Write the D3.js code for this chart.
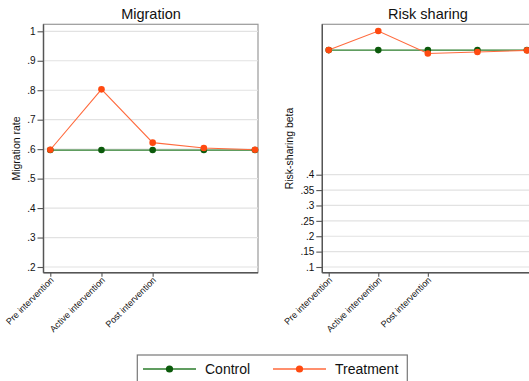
<!DOCTYPE html>
<html><head><meta charset="utf-8">
<script src="https://cdn.jsdelivr.net/npm/d3@7"></script>
<style>body{margin:0;background:#fff}svg{display:block;font-family:"Liberation Sans",Arial,sans-serif}</style>
</head><body>
<svg id="c" width="529" height="381"></svg>
<script>
const periods = [1, 2, 3, 4, 5];
const tickPeriods = [1, 2, 3];
const tickLabels = ["Pre intervention", "Active intervention", "Post intervention"];
const migControl = [0.597, 0.597, 0.597, 0.597, 0.597];
const migTreatment = [0.598, 0.803, 0.622, 0.604, 0.598];
const rsControl = [0.805, 0.805, 0.805, 0.805, 0.805];
const rsTreatment = [0.805, 0.867, 0.794, 0.799, 0.804];
const migTicks = [0.2, 0.3, 0.4, 0.5, 0.6, 0.7, 0.8, 0.9, 1];
const migTickLabels = [".2", ".3", ".4", ".5", ".6", ".7", ".8", ".9", "1"];
const rsTicks = [0.1, 0.15, 0.2, 0.25, 0.3, 0.35, 0.4];
const rsTickLabels = [".1", ".15", ".2", ".25", ".3", ".35", ".4"];

const svg = d3.select("#c");
const cCtrlLine = "#2b7d2b", cCtrlDot = "#0b5a0b", cTrLine = "#ff6a3d", cTrDot = "#ff4a10";

function panel(o) {
  const g = svg.append("g");
  const x = d3.scaleLinear().domain([1, 5]).range([o.px0, o.px1]);
  const y = d3.scaleLinear().domain(o.ydom).range(o.yrange);
  g.append("rect").attr("x", o.fx0).attr("y", o.fy0).attr("width", o.fx1 - o.fx0).attr("height", o.fy1 - o.fy0)
    .attr("fill", "#fff").attr("stroke", "#9a9a9a").attr("stroke-width", 1.2);
  g.selectAll(".grid").data(o.ticks).join("line")
    .attr("x1", o.fx0).attr("x2", o.fx1).attr("y1", d => y(d)).attr("y2", d => y(d))
    .attr("stroke", "#e2e2e2").attr("stroke-width", 1.2);
  const ya = d3.axisLeft(y).tickValues(o.ticks).tickFormat((d, i) => o.tickLabels[i]).tickSize(6).tickPadding(2);
  const yg = g.append("g").attr("transform", `translate(${o.fx0},0)`).call(ya);
  yg.select(".domain").remove();
  yg.selectAll(".tick line").attr("stroke", "#555").attr("stroke-width", 1.1);
  yg.selectAll(".tick text").attr("fill", "#111").style("font-size", "10px").style("font-family", "Liberation Sans, Arial, sans-serif");
  g.append("line").attr("x1", o.fx0).attr("x2", o.fx0).attr("y1", o.fy0).attr("y2", o.fy1).attr("stroke", "#555").attr("stroke-width", 1.4);
  const xa = d3.axisBottom(x).tickValues(tickPeriods).tickFormat((d, i) => tickLabels[i]).tickSize(4).tickPadding(2);
  const xg = g.append("g").attr("transform", `translate(0,${o.fy1})`).call(xa);
  xg.select(".domain").remove();
  xg.selectAll(".tick line").attr("stroke", "#555").attr("stroke-width", 1.1);
  xg.selectAll(".tick text").attr("fill", "#111").style("font-size", "9px").style("font-family", "Liberation Sans, Arial, sans-serif")
    .attr("text-anchor", "end").attr("dy", null).attr("y", 0).attr("x", 0)
    .attr("transform", "translate(3.5,8) rotate(-45)");
  g.append("line").attr("x1", o.fx0).attr("x2", o.fx1).attr("y1", o.fy1).attr("y2", o.fy1).attr("stroke", "#555").attr("stroke-width", 1.4);
  const line = d3.line().x((d, i) => x(periods[i])).y(d => y(d));
  g.append("path").datum(o.ctrl).attr("d", line).attr("fill", "none").attr("stroke", cCtrlLine).attr("stroke-width", 1.3);
  g.append("path").datum(o.tr).attr("d", line).attr("fill", "none").attr("stroke", cTrLine).attr("stroke-width", 1.1);
  g.selectAll(".dc").data(o.ctrl).join("circle").attr("cx", (d, i) => x(periods[i])).attr("cy", d => y(d)).attr("r", 3.3).attr("fill", cCtrlDot);
  g.selectAll(".dt").data(o.tr).join("circle").attr("cx", (d, i) => x(periods[i])).attr("cy", d => y(d)).attr("r", 3.3).attr("fill", cTrDot);
  svg.append("text").attr("x", o.titleX).attr("y", 19).attr("text-anchor", "middle").style("font-size", "14.5px").attr("fill", "#111").text(o.title);
  svg.append("text").attr("transform", `translate(${o.ylabX},${(o.fy0 + o.fy1) / 2}) rotate(-90)`).attr("text-anchor", "middle")
    .style("font-size", "10.5px").attr("fill", "#111").text(o.ylab);
}

panel({fx0: 43.5, fx1: 258, fy0: 24.3, fy1: 272.7, px0: 50.3, px1: 255, ydom: [0.2, 1], yrange: [267, 31.3],
  ticks: migTicks, tickLabels: migTickLabels, ctrl: migControl, tr: migTreatment,
  title: "Migration", titleX: 151, ylab: "Migration rate", ylabX: 20});
panel({fx0: 322.3, fx1: 531, fy0: 24.3, fy1: 272.7, px0: 328.7, px1: 527, ydom: [0.1, 0.4], yrange: [267, 174.7],
  ticks: rsTicks, tickLabels: rsTickLabels, ctrl: rsControl, tr: rsTreatment,
  title: "Risk sharing", titleX: 428, ylab: "Risk-sharing beta", ylabX: 293});

const lg = svg.append("g");
lg.append("rect").attr("x", 137.3).attr("y", 355).attr("width", 270).attr("height", 40).attr("fill", "#fff").attr("stroke", "#777").attr("stroke-width", 1.2);
const items = [{name: "Control", line: cCtrlLine, dot: cCtrlDot, x0: 143}, {name: "Treatment", line: cTrLine, dot: cTrDot, x0: 273}];
items.forEach(it => {
  lg.append("line").attr("x1", it.x0).attr("x2", it.x0 + 53).attr("y1", 369).attr("y2", 369).attr("stroke", it.line).attr("stroke-width", 1.3);
  lg.append("circle").attr("cx", it.x0 + 26.5).attr("cy", 369).attr("r", 3.6).attr("fill", it.dot);
  lg.append("text").attr("x", it.x0 + 62).attr("y", 374).style("font-size", "14px").attr("fill", "#111").text(it.name);
});
</script>
</body></html>
